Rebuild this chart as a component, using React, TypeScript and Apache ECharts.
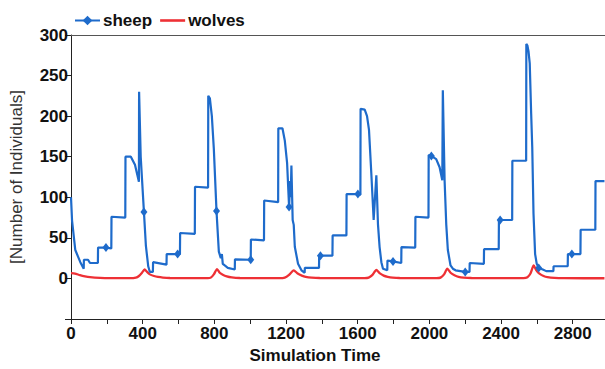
import React, { useEffect, useRef } from "react";
import * as echarts from "echarts";

const sheepT = [0, 6, 24, 52, 71, 72, 95, 106, 150, 151, 195, 225, 226, 303, 304, 334, 357, 379, 380, 389, 407, 418, 431, 440, 457, 458, 533, 534, 595, 608, 609, 691, 692, 765, 766, 775, 786, 797, 812, 825, 836, 842, 847, 858, 875, 914, 915, 1003, 1004, 1077, 1078, 1156, 1157, 1180, 1193, 1206, 1217, 1223, 1226, 1230, 1237, 1243, 1249, 1267, 1286, 1304, 1305, 1384, 1385, 1392, 1459, 1460, 1537, 1538, 1601, 1615, 1616, 1639, 1652, 1663, 1676, 1689, 1704, 1713, 1722, 1732, 1741, 1765, 1766, 1797, 1843, 1844, 1921, 1922, 1995, 1996, 2011, 2038, 2057, 2072, 2075, 2085, 2094, 2103, 2118, 2131, 2146, 2200, 2224, 2225, 2304, 2305, 2387, 2388, 2395, 2462, 2463, 2540, 2541, 2547, 2553, 2560, 2568, 2574, 2581, 2590, 2599, 2610, 2633, 2652, 2692, 2693, 2772, 2773, 2795, 2843, 2844, 2926, 2927, 2977];
const sheepV = [100, 71, 35, 20, 12, 23, 23, 19, 19, 38, 38, 37, 76, 75, 150, 150, 140, 119, 230, 150, 82, 40, 15, 8, 8, 20, 17, 30, 30, 30, 56, 55, 113, 112, 225, 222, 200, 160, 83, 33, 25, 30, 18, 16, 13, 11, 23.5, 23, 48, 47, 96, 94, 185, 185, 170, 142, 88, 120, 100, 139, 72, 66, 39, 18, 10, 7, 13, 13, 28, 28, 28, 53, 53, 104, 104, 103, 209, 208, 200, 183, 129, 72, 127, 67, 39, 20, 12, 10, 22, 21, 19, 38.6, 38, 76, 75, 152, 151, 147, 137, 121, 232, 120, 67, 35, 16, 12, 10, 8, 8, 19, 18, 36, 36, 72, 72, 72, 145, 145, 289, 287, 280, 265, 203, 162, 80, 30, 18, 13, 11, 9, 9, 15, 15, 30, 30, 30, 60, 60, 120, 120];
const sheepMarkerT = [195, 407, 595, 812, 1003, 1217, 1392, 1601, 1797, 2011, 2200, 2395, 2610, 2795];

const wolvesT = [0, 22, 50, 78, 106, 162, 217, 329, 362, 379, 396, 411, 424, 440, 463, 485, 513, 552, 663, 764, 780, 797, 815, 830, 847, 869, 897, 942, 1165, 1193, 1215, 1243, 1265, 1288, 1310, 1343, 1388, 1639, 1661, 1681, 1704, 1722, 1745, 1767, 1795, 1834, 2040, 2062, 2082, 2100, 2118, 2140, 2163, 2191, 2235, 2525, 2547, 2564, 2582, 2597, 2614, 2637, 2659, 2698, 2754, 2977];
const wolvesV = [6.5, 6, 4, 2.5, 1.5, 0.6, 0.3, 0.3, 1, 3, 7, 11, 8, 5, 3, 1.8, 1, 0.5, 0.3, 0.3, 1, 5, 11.5, 7, 4.5, 2.5, 1.2, 0.5, 0.3, 1, 4, 10, 6, 3.5, 2, 1, 0.5, 0.3, 1, 4, 10.5, 6.5, 3.5, 2, 1, 0.5, 0.3, 1, 5, 12, 7, 4, 2, 1, 0.5, 0.3, 1.5, 6, 16, 10, 6, 3, 1.5, 0.6, 0.3, 0.2];

const xTickLabels = [0, 400, 800, 1200, 1600, 2000, 2400, 2800];
const yTickLabels = [0, 50, 100, 150, 200, 250, 300];

const SHEEP = "#1E6BCB";
const WOLVES = "#EE3035";
const FONT = "'Liberation Sans', Arial, sans-serif";

export default function App() {
  const ref = useRef<HTMLDivElement>(null);
  useEffect(() => {
    if (!ref.current) return;
    const chart = echarts.init(ref.current, undefined, { renderer: "svg" });
    const sheepData = sheepT.map((t, i) => ({
      value: [t, sheepV[i]],
      symbol: sheepMarkerT.includes(t) ? "diamond" : "none",
    }));
    const wolvesData = wolvesT.map((t, i) => [t, wolvesV[i]]);
    const axisLabelStyle = { color: "#111", fontSize: 17, fontWeight: "bold" as const, fontFamily: FONT };
    chart.setOption({
      animation: false,
      backgroundColor: "#fff",
      textStyle: { fontFamily: FONT },
      legend: {
        left: 69,
        top: 7,
        itemWidth: 25,
        itemHeight: 12,
        itemGap: 8,
        textStyle: { color: "#111", fontSize: 17, fontWeight: "bold", fontFamily: FONT, padding: [0, 0, 0, -2] },
        data: [
          { name: "sheep" },
          { name: "wolves", icon: "path://M0 0H25V2.6H0Z" },
        ],
      },
      grid: { left: 71, top: 35, right: 0, bottom: 50, containLabel: false },
      xAxis: [
        {
          type: "value",
          min: 0,
          max: 2980,
          interval: 200,
          position: "bottom",
          name: "Simulation Time",
          nameLocation: "middle",
          nameGap: 27,
          nameTextStyle: { color: "#111", fontSize: 17, fontWeight: "bold", fontFamily: FONT, padding: [0, 46, 0, 0] },
          axisLine: { show: true, onZero: false, lineStyle: { color: "#222", width: 1 } },
          axisTick: { show: true, length: 5, lineStyle: { color: "#222" } },
          axisLabel: {
            ...axisLabelStyle,
            margin: 6,
            showMaxLabel: false,
            formatter: (v: number) => (xTickLabels.includes(v) ? String(v) : ""),
          },
          splitLine: { show: false },
        },
        {
          type: "value",
          min: 0,
          max: 2980,
          position: "top",
          axisLine: { show: true, onZero: false, lineStyle: { color: "#555", width: 1 } },
          axisTick: { show: false },
          axisLabel: { show: false },
          splitLine: { show: false },
        },
      ],
      yAxis: {
        type: "value",
        min: -50,
        max: 300,
        interval: 50,
        name: "[Number of Individuals]",
        nameLocation: "middle",
        nameGap: 46,
        nameTextStyle: { color: "#333", fontSize: 17, fontFamily: FONT },
        axisLine: { show: true, onZero: false, lineStyle: { color: "#222", width: 1 } },
        axisTick: { show: true, length: 6, lineStyle: { color: "#222" } },
        axisLabel: {
          ...axisLabelStyle,
          margin: 3,
          formatter: (v: number) => (yTickLabels.includes(v) ? String(v) : ""),
        },
        splitLine: { show: false },
      },
      series: [
        {
          name: "sheep",
          type: "line",
          data: sheepData,
          symbol: "diamond",
          symbolSize: [7, 9],
          showAllSymbol: true,
          lineStyle: { color: SHEEP, width: 2.2 },
          itemStyle: { color: SHEEP },
          z: 3,
        },
        {
          name: "wolves",
          type: "line",
          data: wolvesData,
          symbol: "none",
          smooth: 0.2,
          lineStyle: { color: WOLVES, width: 2.3 },
          itemStyle: { color: WOLVES },
          z: 2,
        },
      ],
    });
    return () => chart.dispose();
  }, []);
  return <div ref={ref} style={{ width: 605, height: 369, position: "absolute", left: 0, top: 0 }} />;
}
